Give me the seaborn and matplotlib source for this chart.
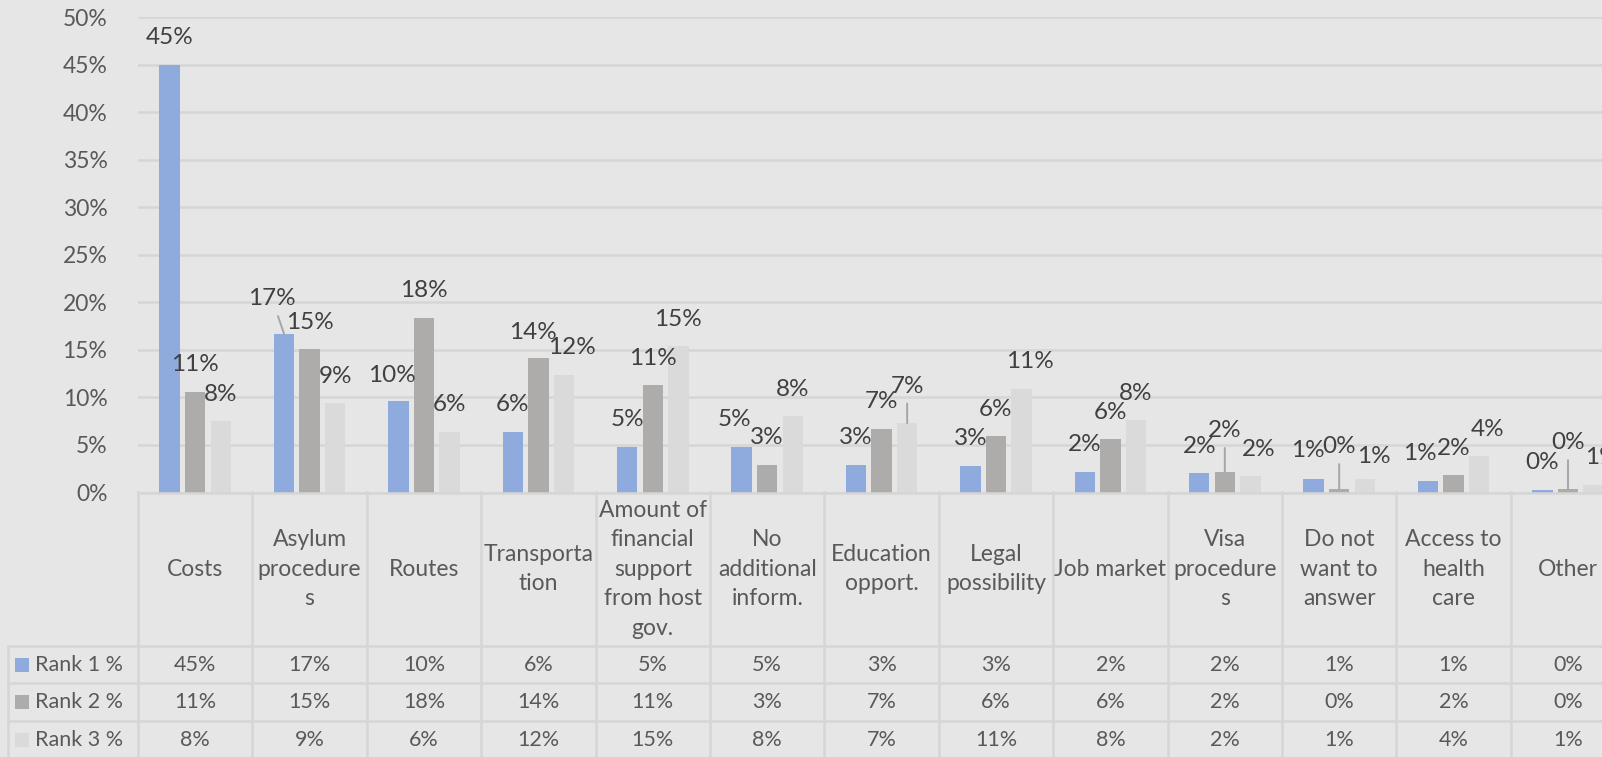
import numpy as np
import pandas as pd
import matplotlib
matplotlib.use("Agg")
import matplotlib.pyplot as plt
from matplotlib.patches import Rectangle
import seaborn as sns

# ---------------- data ----------------
categories = ["Costs", "Asylum\nprocedure\ns", "Routes", "Transporta\ntion",
              "Amount of\nfinancial\nsupport\nfrom host\ngov.", "No\nadditional\ninform.",
              "Education\nopport.", "Legal\npossibility", "Job market",
              "Visa\nprocedure\ns", "Do not\nwant to\nanswer", "Access to\nhealth\ncare",
              "Other"]
series = ["Rank 1 %", "Rank 2 %", "Rank 3 %"]
rank1 = [45.0, 16.7, 9.6, 6.4, 4.8, 4.8, 2.9, 2.8, 2.2, 2.0, 1.4, 1.2, 0.3]
rank2 = [10.6, 15.1, 18.4, 14.2, 11.3, 2.9, 6.7, 5.9, 5.6, 2.2, 0.4, 1.8, 0.4]
rank3 = [7.5, 9.4, 6.4, 12.4, 15.4, 8.0, 7.3, 10.9, 7.6, 1.7, 1.4, 3.8, 0.8]
y_ticks = [0, 5, 10, 15, 20, 25, 30, 35, 40, 45, 50]

# ---------------- style ----------------
colors = ["#8FAADC", "#AEABAB", "#DADADA"]
BG = "#E7E6E6"
GRID = "#D6D6D6"
TXT = "#595959"
LBL = "#404040"

# label offsets in pixels (dx, dy) for moved data labels; default (0, 27)
label_offsets = {
    (1, 0): (-12, 35), (2, 0): (-7, 26), (3, 1): (-5, 25), (3, 2): (8, 27),
    (5, 0): (-7, 27), (6, 2): (0, 37), (7, 2): (8, 27), (9, 1): (0, 41),
    (9, 2): (8, 27), (10, 0): (-6, 29), (10, 1): (0, 42), (10, 2): (9, 23),
    (11, 0): (-8, 28), (11, 2): (8, 27), (12, 1): (0, 46), (12, 2): (8, 27),
}
leaders = {(1, 0), (6, 2), (9, 1), (10, 1), (12, 1)}

plt.rcParams['font.family'] = ['Lato', 'DejaVu Sans']

W, H = 1602, 757
fig = plt.figure(figsize=(W / 100, H / 100), dpi=100, facecolor=BG)

left_px = 138.0
colw = 114.4
n = len(categories)
y0_px, y50_px = 492.5, 17.4

ax = fig.add_axes([left_px / W, 1 - y0_px / H, n * colw / W, (y0_px - y50_px) / H])
ax.set_facecolor(BG)

df = pd.DataFrame({
    "category": categories * 3,
    "rank": np.repeat(series, n),
    "value": rank1 + rank2 + rank3,
})

sns.barplot(data=df, x="category", y="value", hue="rank", order=categories,
            hue_order=series, palette=colors, saturation=1, width=0.67, gap=0.2,
            errorbar=None, legend=False, linewidth=0, ax=ax)

ax.set_xlim(-0.5, n - 0.5)
ax.set_ylim(0, 50)
ax.set_yticks(y_ticks)
ax.set_yticklabels([f"{t}%" for t in y_ticks])
ax.tick_params(axis='y', length=0, pad=22, labelsize=16.5, labelcolor=TXT)
ax.tick_params(axis='x', length=0, labelbottom=False)
ax.set_xlabel("")
ax.set_ylabel("")
for s in ["top", "right", "left"]:
    ax.spines[s].set_visible(False)
ax.spines["bottom"].set_color(GRID)
ax.spines["bottom"].set_linewidth(1.8)
ax.yaxis.grid(True, color=GRID, linewidth=1.8)
ax.set_axisbelow(True)

# data labels
for j, cont in enumerate(ax.containers):
    for i, bar in enumerate(cont):
        x = bar.get_x() + bar.get_width() / 2
        h = bar.get_height()
        dx, dy = label_offsets.get((i, j), (0, 27))
        kw = {}
        if (i, j) in leaders:
            kw["arrowprops"] = dict(arrowstyle='-', color="#A6A6A6", lw=1.4,
                                    shrinkA=3, shrinkB=0)
        ax.annotate(f"{h:.0f}%", xy=(x, h), xytext=(dx, dy), textcoords='offset pixels',
                    ha='center', va='center', fontsize=17.5, color=LBL,
                    annotation_clip=False, **kw)

# ---------------- data table ----------------
tax = fig.add_axes([left_px / W, 0, n * colw / W, (H - y0_px) / H])
tax.set_xlim(-0.5, n - 0.5)
tax.set_ylim(H, y0_px)
tax.axis('off')
tax.patch.set_alpha(0)

def pxx(px):
    return -0.5 + (px - left_px) / colw

row_lines = [645.7, 683.5, 721.3, 759.1]
legend_left = pxx(8.2)
line_kw = dict(color=GRID, lw=1.8, clip_on=False)
for k in range(n + 1):
    tax.plot([k - 0.5, k - 0.5], [y0_px, H + 5], **line_kw)
tax.plot([legend_left, legend_left], [row_lines[0], H + 5], **line_kw)
for ry in row_lines:
    tax.plot([legend_left, n + 0.5], [ry, ry], **line_kw)

header_c = (y0_px + row_lines[0]) / 2
for i, cat in enumerate(categories):
    tax.text(i, header_c, cat, ha='center', va='center', multialignment='center',
             fontsize=16.5, color=TXT, linespacing=1.5, clip_on=False)

values = [rank1, rank2, rank3]
for r in range(3):
    yc = (row_lines[r] + row_lines[r + 1]) / 2
    tax.add_patch(Rectangle((pxx(15), yc - 7), 14 / colw, 14, facecolor=colors[r],
                            edgecolor='none', clip_on=False))
    tax.text(pxx(35), yc, series[r], ha='left', va='center', fontsize=15.5, color=TXT,
             clip_on=False)
    for i in range(n):
        tax.text(i, yc, f"{values[r][i]:.0f}%", ha='center', va='center', fontsize=15.5,
                 color=TXT, clip_on=False)

fig.savefig("out.png", dpi=100, facecolor=BG)
